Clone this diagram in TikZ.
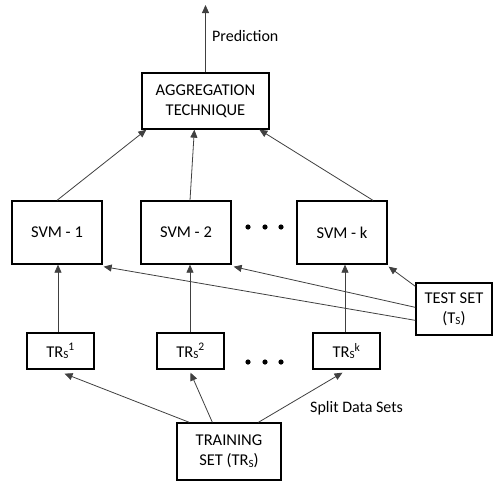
\documentclass[tikz,border=0pt]{standalone}
\usepackage{fontspec}
\setmainfont{Carlito}
\usetikzlibrary{arrows.meta,calc}
\newcommand{\smS}{{\fontsize{11}{11}\selectfont\raisebox{-0.3ex}{S}}}
\begin{document}
\begin{tikzpicture}[x=1pt,y=-1pt,
  box/.style={draw=black,line width=1.3pt,inner sep=0pt,align=center,font=\fontsize{16.5}{20}\selectfont},
  arr/.style={draw=black!75,line width=0.8pt,-{Triangle[length=8pt,width=7pt]}},
  lbl/.style={font=\fontsize{16}{18}\selectfont,inner sep=0pt}]
\useasboundingbox (0,0) rectangle (495,482);
\fill[white] (0,0) rectangle (495,482);
% nodes
\node[box,minimum width=127pt,minimum height=56pt] (agg) at (205.5,101) {AGGREGATION\\TECHNIQUE};
\node[box,minimum width=90pt,minimum height=63pt] (svm1) at (57,232.5) {SVM - 1};
\node[box,minimum width=90pt,minimum height=63pt] (svm2) at (186,232.5) {SVM - 2};
\node[box,minimum width=90pt,minimum height=63pt] (svmk) at (342,232.5) {SVM - k};
\node[box,minimum width=76pt,minimum height=52pt] (test) at (454,309) {TEST SET\\(T\smS)};
\node[box,minimum width=67pt,minimum height=36pt] (trs1) at (60.5,351) {TR\smS\textsuperscript{1}};
\node[box,minimum width=67pt,minimum height=36pt] (trs2) at (190.5,351) {TR\smS\textsuperscript{2}};
\node[box,minimum width=67pt,minimum height=36pt] (trsk) at (346.5,351) {TR\smS\textsuperscript{k}};
\node[box,minimum width=104pt,minimum height=57pt] (train) at (229,451.5) {TRAINING\\SET (TR\smS)};
% dots
\foreach \x in {248,265,281} {
  \fill (\x,227) circle (2.6pt);
  \fill (\x,362) circle (2.6pt);
}
% labels
\coordinate (pred) at (205.5,5);
\node[lbl,anchor=west] (predlbl) at (212,36) {Prediction};
\node[lbl,anchor=west] (splitlbl) at (310,408) {Split Data Sets};
% prediction arrow
\draw[arr] (agg.north) -- (pred);
% SVM -> aggregation
\draw[arr] (svm1.north) -- ($(agg.south west)+(5,0)$);
\draw[arr] ($(svm2.north)+(4,0)$) -- ($(agg.south west)+(53,0)$);
\draw[arr] ($(svmk.north)+(31,0)$) -- ($(agg.south west)+(118,0)$);
% test -> SVMs
\draw[arr] ($(test.north west)+(0,4)$) -- ($(svmk.south east)+(1,2)$);
\draw[arr] ($(test.north west)+(0,25)$) -- ($(svm2.south east)+(2,2)$);
\draw[arr] ($(test.north west)+(0,38)$) -- ($(svm1.south east)+(1,2)$);
% TRs -> SVM
\draw[arr] ($(trs1.north)+(-2.5,0)$) coordinate (u1) -- (u1 |- svm1.south);
\draw[arr] ($(trs2.north)+(-0.5,0)$) coordinate (u2) -- (u2 |- svm2.south);
\draw[arr] ($(trsk.north)+(-1.5,0)$) coordinate (u3) -- (u3 |- svmk.south);
% training -> TRs
\draw[arr] ($(train.north west)+(13,0)$) -- ($(trs1.south)+(4,4)$);
\draw[arr] ($(train.north west)+(36,0)$) -- ($(trs2.south)+(0,3)$);
\draw[arr] ($(train.north west)+(82,0)$) -- ($(trsk.south)+(-4,3)$);
\end{tikzpicture}
\end{document}
